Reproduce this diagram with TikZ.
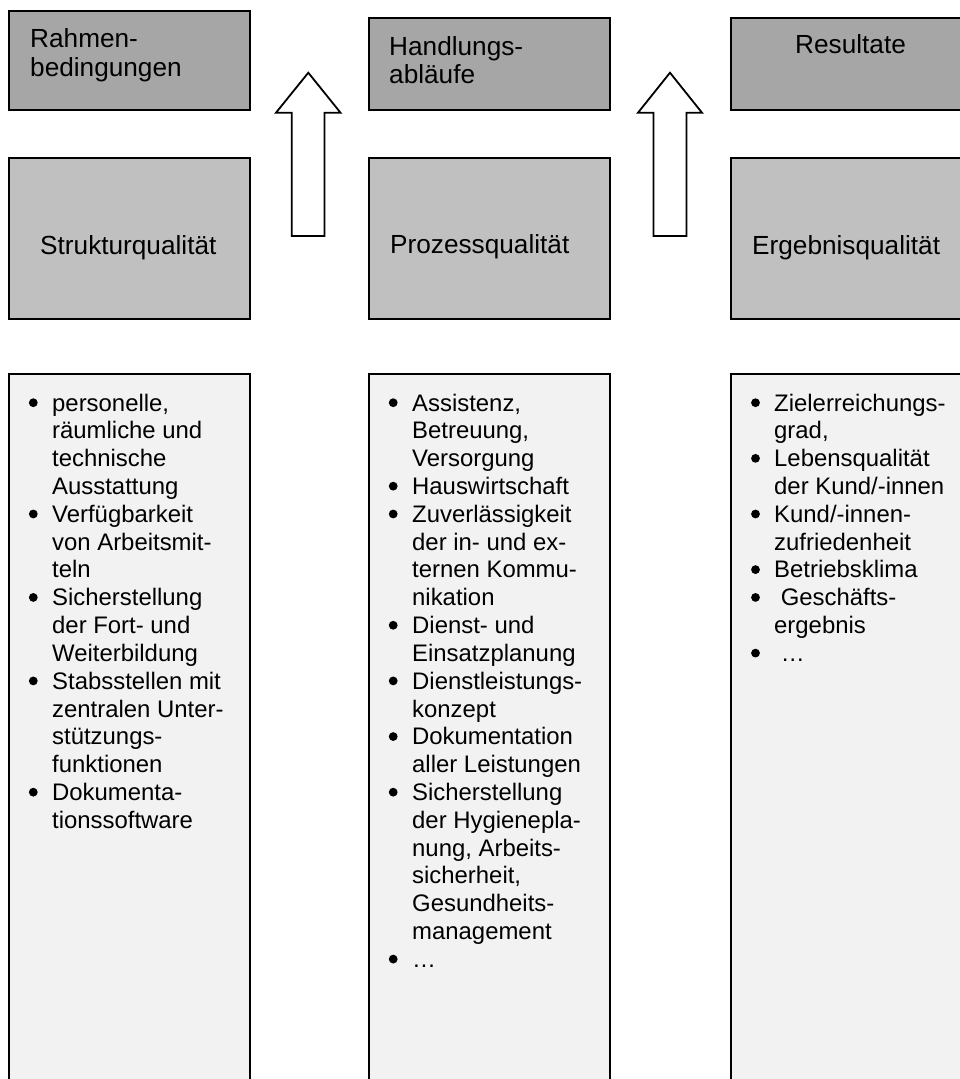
\documentclass[tikz,border=0pt]{standalone}
\usepackage{fontspec}
\setmainfont{Liberation Sans}
\definecolor{topgray}{HTML}{A6A6A6}
\definecolor{midgray}{HTML}{C0C0C0}
\definecolor{lightgray}{HTML}{F2F2F2}
\tikzset{
  topbox/.style={draw=black, line width=1.5pt, fill=topgray, rectangle, inner sep=0pt, anchor=north west, minimum width=241pt},
  midbox/.style={draw=black, line width=1.5pt, fill=midgray, rectangle, inner sep=0pt, anchor=north west, minimum width=241pt, minimum height=161pt},
  listbox/.style={draw=black, line width=1.5pt, fill=lightgray, rectangle, inner sep=0pt, anchor=north west, minimum width=241pt, minimum height=740pt},
  headtext/.style={inner sep=0pt, anchor=base west, font=\fontsize{26.2}{28.3}\selectfont},
  listtext/.style={inner sep=0pt, anchor=base west, font=\fontsize{23.9}{27.82}\selectfont},
  blockarrow/.style={draw=black, line width=1.8pt, fill=white, line join=miter},
  bulletdot/.style={fill=black}
}
\begin{document}
\begin{tikzpicture}[x=1pt,y=-1pt]
\clip (0,0) rectangle (960,1079);
\fill[white] (0,0) rectangle (960,1079);

% top row
\node[topbox, minimum height=99pt] (rahmen) at (8,10) {};
\node[topbox, minimum height=92pt] (handl) at (368,17) {};
\node[topbox, minimum height=92pt] (result) at (730,17) {};
\node[headtext] (rahmenT) at (30,47.7) {\parbox[t]{210pt}{Rahmen-\\bedingungen}};
\node[headtext] (handlT) at (389,55) {\parbox[t]{210pt}{Handlungs-\\abläufe}};
\node[headtext] (resultT) at (795,53.3) {Resultate};

% second row
\node[midbox] (struk) at (8,157) {};
\node[midbox] (proz) at (368,157) {};
\node[midbox] (ergeb) at (730,157) {};
\node[headtext] (strukT) at (40,254) {Strukturqualität};
\node[headtext] (prozT) at (390,253) {Prozessqualität};
\node[headtext] (ergebT) at (752,254) {Ergebnisqualität};

% block arrows
\draw[blockarrow] (291.7,236) -- (291.7,112.7) -- (276,112.7) -- (308.3,72.7) -- (340.5,112.7) -- (324.5,112.7) -- (324.5,236) -- cycle;
\draw[blockarrow] (653.5,236) -- (653.5,112.7) -- (638,112.7) -- (670,72.7) -- (702,112.7) -- (686.5,112.7) -- (686.5,236) -- cycle;

% list boxes
\node[listbox] (listL) at (8,373) {};
\node[listbox] (listM) at (368,373) {};
\node[listbox] (listR) at (730,373) {};

% bullets (line n has baseline 411 + (n-1)*27.82)
\foreach \n in {1,5,8,11,15}
  \fill[bulletdot] (33.3,{411+(\n-1)*27.82-8.3}) circle [radius=4.4pt];
\foreach \n in {1,4,5,9,11,13,15,21}
  \fill[bulletdot] (393.2,{411+(\n-1)*27.82-8.3}) circle [radius=4.4pt];
\foreach \n in {1,3,5,7,8,10}
  \fill[bulletdot] (755.5,{411+(\n-1)*27.82-8.3}) circle [radius=4.4pt];

\node[listtext] (listLT) at (52,411) {\parbox[t]{200pt}{%
personelle,\\
räumliche und\\
technische\\
Ausstattung\\
Verfügbarkeit\\
von Arbeitsmit-\\
teln\\
Sicherstellung\\
der Fort- und\\
Weiterbildung\\
Stabsstellen mit\\
zentralen Unter-\\
stützungs-\\
funktionen\\
Dokumenta-\\
tionssoftware}};

\node[listtext] (listMT) at (412,411) {\parbox[t]{200pt}{%
Assistenz,\\
Betreuung,\\
Versorgung\\
Hauswirtschaft\\
Zuverlässigkeit\\
der in- und ex-\\
ternen Kommu-\\
nikation\\
Dienst- und\\
Einsatzplanung\\
Dienstleistungs-\\
konzept\\
Dokumentation\\
aller Leistungen\\
Sicherstellung\\
der Hygienepla-\\
nung, Arbeits-\\
sicherheit,\\
Gesundheits-\\
management\\
…}};

\node[listtext] (listRT) at (774,411) {\parbox[t]{200pt}{%
Zielerreichungs-\\
grad,\\
Lebensqualität\\
der Kund/-innen\\
Kund/-innen-\\
zufriedenheit\\
Betriebsklima\\
\hspace*{6.6pt}Geschäfts-\\
ergebnis\\
\hspace*{6.6pt}…}};
\end{tikzpicture}
\end{document}
